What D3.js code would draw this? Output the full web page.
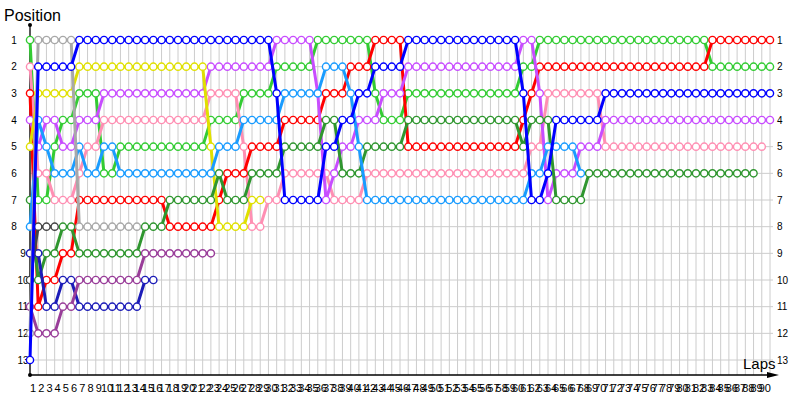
<!DOCTYPE html>
<html>
<head>
<meta charset="utf-8">
<script src="https://cdn.jsdelivr.net/npm/d3@7"></script>
<style>
  body { margin: 0; background: #fff; }
  text { font-family: "Liberation Sans", Arial, sans-serif; fill: #000; }
</style>
</head>
<body>
<svg id="chart" width="800" height="400"></svg>
<script>
// lap columns 0..90, positions 1..13
const lapLabels = d3.range(1, 91)
const positions = d3.range(1, 14)

// each driver: runs of [position, number of laps held]
const lime = [[1,1],[7,2],[5,1],[4,2],[3,3],[6,2],[5,11],[4,4],[3,4],[2,5],[1,7],[3,1],[4,3],[3,14],[2,2],[1,21],[2,8]]
const pink = [[2,1],[6,2],[7,3],[6,1],[5,2],[4,13],[3,4],[5,1],[8,2],[7,2],[6,6],[7,4],[6,20],[5,2],[3,7],[5,20]]
const red = [[3,1],[11,1],[10,2],[9,2],[7,11],[8,6],[7,1],[6,3],[5,4],[4,5],[3,3],[2,3],[1,4],[5,14],[4,1],[3,1],[2,21],[1,8]]
const violet = [[4,1],[5,1],[4,2],[5,2],[4,3],[3,13],[2,8],[1,5],[3,1],[7,1],[6,1],[5,2],[4,3],[3,3],[2,14],[1,2],[3,1],[7,1],[6,3],[5,3],[4,21]]
const yellow = [[5,1],[3,5],[2,16],[5,1],[8,4],[7,2]]
const forest = [[7,1],[10,1],[9,2],[8,2],[9,8],[8,3],[7,6],[6,1],[7,3],[6,4],[5,5],[4,2],[6,3],[5,5],[4,14],[5,1],[4,3],[7,4],[6,21]]
const lightBlue = [[8,1],[4,1],[5,1],[6,3],[5,1],[6,2],[5,2],[6,12],[5,3],[4,5],[3,5],[2,3],[3,1],[5,1],[7,20],[6,2],[5,4],[6,1]]
const navy = [[9,2],[11,2],[10,2],[11,8],[10,2]]
const darkGray = [[10,1],[8,3]]
const purple = [[11,1],[12,3],[11,2],[10,8],[9,9]]
const gray = [[12,1],[1,5],[8,8]]
const blue = [[13,1],[2,5],[1,24],[3,1],[7,5],[5,2],[4,2],[3,2],[2,4],[1,14],[3,1],[7,2],[6,1],[4,6],[3,21]]

const drivers = [
  { runs: lime, color: '#33cc33' },
  { runs: pink, color: '#ff8fb3' },
  { runs: red, color: '#ff0000' },
  { runs: violet, color: '#c84dff' },
  { runs: yellow, color: '#e0e000' },
  { runs: forest, color: '#2f962f' },
  { runs: lightBlue, color: '#1a9cff' },
  { runs: navy, color: '#1c1cb8' },
  { runs: darkGray, color: '#444444' },
  { runs: purple, color: '#993d99' },
  { runs: gray, color: '#a8a8a8' },
  { runs: blue, color: '#0000ff' }
]

function expand (runs) {
  let out = []
  runs.forEach(([pos, n]) => { for (let i = 0; i < n; i++) out.push(pos) })
  return out.map((p, lap) => ({ lap: lap, pos: p }))
}

function main () {
  let svg = d3.select('#chart')
  let x = d3.scaleLinear().domain([0, 90]).range([30, 770])
  let y = d3.scaleLinear().domain([1, 13]).range([40, 360])
  let axisY = 375

  // grid
  let grid = svg.append('g').attr('stroke', '#cccccc').attr('stroke-width', 1)
  grid.selectAll('line.v').data(d3.range(0, 91)).join('line')
    .attr('x1', (d) => x(d)).attr('x2', (d) => x(d))
    .attr('y1', y(1)).attr('y2', axisY)
  grid.selectAll('line.h').data(positions).join('line')
    .attr('x1', x(0)).attr('x2', 773)
    .attr('y1', (d) => y(d)).attr('y2', (d) => y(d))

  // axes
  svg.append('line').attr('x1', x(0)).attr('x2', x(0)).attr('y1', 25).attr('y2', axisY)
    .attr('stroke', '#000').attr('stroke-width', 1.3)
  svg.append('line').attr('x1', x(0)).attr('x2', 770).attr('y1', axisY).attr('y2', axisY)
    .attr('stroke', '#000').attr('stroke-width', 1.3)
  svg.append('path').attr('d', `M779,${axisY} L767,${axisY - 3} L767,${axisY + 3} Z`).attr('fill', '#000')
  svg.append('circle').attr('cx', x(0)).attr('cy', 25).attr('r', 2).attr('fill', '#000')
  svg.append('circle').attr('cx', x(0)).attr('cy', axisY).attr('r', 2).attr('fill', '#000')

  svg.append('text').attr('x', 4).attr('y', 21).attr('font-size', 16).text('Position')
  svg.append('text').attr('x', 743).attr('y', 369).attr('font-size', 15).text('Laps')

  // position labels
  svg.append('g').selectAll('text').data(positions).join('text')
    .attr('x', (d) => d < 9 ? 14 : 23).attr('y', (d) => y(d) + 3.5)
    .attr('text-anchor', 'middle').attr('font-size', 10).text((d) => d)
  svg.append('g').selectAll('text').data(positions).join('text')
    .attr('x', 777).attr('y', (d) => y(d) + 3.5)
    .attr('font-size', 10).text((d) => d)

  // lap labels
  svg.append('g').selectAll('text').data(lapLabels).join('text')
    .attr('x', (d) => x(d - 1) + 3).attr('y', 392)
    .attr('text-anchor', 'middle').attr('font-size', 11).text((d) => d)

  let line = d3.line().x((d) => x(d.lap)).y((d) => y(d.pos))

  drivers.forEach((drv) => {
    let pts = expand(drv.runs)
    let g = svg.append('g')
    g.append('path').datum(pts).attr('d', line)
      .attr('fill', 'none').attr('stroke', drv.color).attr('stroke-width', 3)
      .attr('stroke-linejoin', 'round')
    g.selectAll('circle').data(pts).join('circle')
      .attr('cx', (d) => x(d.lap)).attr('cy', (d) => y(d.pos)).attr('r', 3.6)
      .attr('fill', '#fff').attr('stroke', drv.color).attr('stroke-width', 1.4)
  })
}

main()
</script>
</body>
</html>
